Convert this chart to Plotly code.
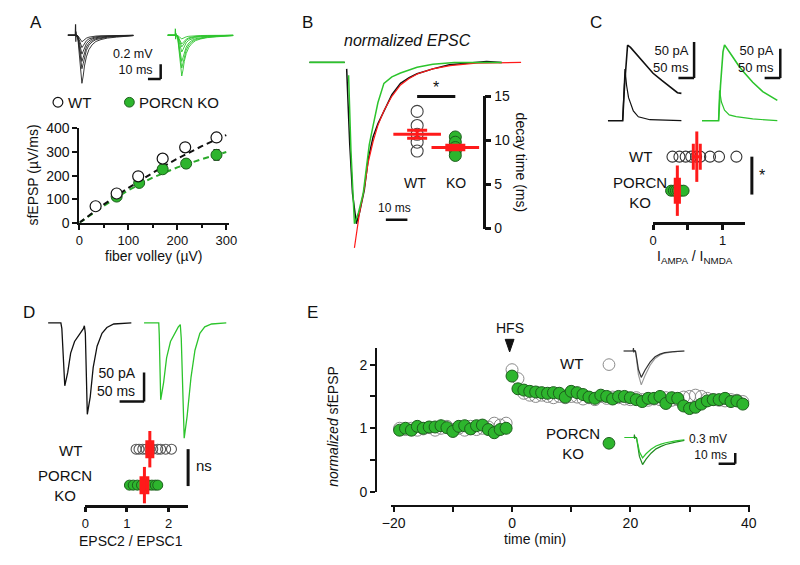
import plotly.graph_objects as go

# ======================= DATA =======================
# Panel A: input-output relation (fiber volley vs sfEPSP)
A_FV_WT = [33, 76, 120, 170, 216, 280]
A_WT = [70, 124, 197, 272, 320, 362]
A_WT_SEM = [8, 10, 14, 15, 20, 18]
A_FV_KO = [76, 122, 170, 218, 280]
A_KO = [111, 169, 227, 251, 288]
A_KO_SEM = [8, 15, 18, 18, 22]
A_FIT_X = [0, 50, 100, 150, 200, 250, 300]
A_FIT_WT = [0, 78, 148, 212, 272, 325, 372]
A_FIT_KO = [0, 72, 138, 192, 235, 270, 300]
A_X_TICKS = [0, 100, 200, 300]
A_X_MINOR = [50, 150, 250]
A_Y_TICKS = [0, 100, 200, 300, 400]
# Panel A example fEPSP traces (ms, normalised shape, amplitudes in mV)
FEPSP_T = [-6.0, -0.5, 1.0, 2.0, 3.0, 4.0, 5.0, 6.0, 7.0, 8.5, 10.5, 13.0, 16.0, 20.0, 25.0, 32.0, 40.0, 45.4]
FEPSP_SHAPE = [0, 0, 0, -0.12, -0.45, -0.82, -1.0, -0.85, -0.64, -0.45, -0.30, -0.20, -0.13, -0.09, -0.06, -0.04, -0.02, -0.01]
A_AMP_WT = [0.09, 0.17, 0.26, 0.36, 0.46, 0.66]
A_AMP_KO = [0.05, 0.12, 0.16, 0.23, 0.36, 0.45, 0.56]
ART_T = [-0.2, 0.0, 0.2, 0.4, 0.7, 1.0]
ART_V = [0.0, 0.15, -0.09, 0.05, -0.02, 0.0]

# Panel B: normalised EPSC (ms, normalised current)
B_BASE_T = [-17.3, -0.9]
B_BASE_V = [0, 0]
B_WT_T = [0, 1.4, 2.7, 4.5, 6, 8.2, 10, 12.3, 14.5, 17.3, 21, 25, 29, 32.7, 40, 47.7, 55, 65, 72]
B_WT_V = [-0.04, -0.5, -0.81, -1.0, -0.93, -0.79, -0.6, -0.46, -0.38, -0.30, -0.20, -0.13, -0.095, -0.07, -0.04, -0.015, -0.005, 0.005, 0]
B_KO_T = [0.9, 2.0, 3.6, 5.5, 7.7, 10.5, 12.3, 14.5, 17.3, 21, 25, 32.7, 40, 50, 60, 72]
B_KO_V = [-0.08, -0.55, -1.0, -0.93, -0.81, -0.51, -0.39, -0.25, -0.13, -0.09, -0.066, -0.03, -0.012, 0, 0, 0]
B_FIT_T = [3.6, 6, 8.2, 10, 12.3, 14.5, 17.3, 21, 25, 29, 33, 40, 48, 60, 81]
B_FIT_V = [-1.15, -0.93, -0.78, -0.62, -0.49, -0.39, -0.30, -0.21, -0.14, -0.10, -0.07, -0.04, -0.02, -0.005, 0]
B_GROUPS = ["WT", "KO"]
B_WT_DECAY = [13.3, 11.7, 10.7, 9.8, 8.8]
B_KO_DECAY = [10.4, 9.8, 9.2, 8.8, 8.3]
B_MEAN = [10.7, 9.2]
B_SEM = [0.45, 0.25]
B_Y_TICKS = [0, 5, 10, 15]

# Panel C: AMPA / NMDA currents (ms, pA)
C_WT_NMDA_T = [-47, -3, 0, 6, 12.5, 15.6, 25, 40.6, 56, 72, 97, 125, 150, 175, 187.5]
C_WT_NMDA_I = [0, 0, 0, 49, 96, 105, 102, 94, 86, 78, 66, 56, 47, 39, 38]
C_WT_AMPA_T = [0, 7.2, 12.5, 18.8, 34, 50, 87, 187.5]
C_WT_AMPA_I = [0, 72, 49, 32, 13.5, 5.4, 1.4, 0]
C_KO_NMDA_T = [-53, -3, 0, 6, 14, 19, 30, 47, 62, 78, 109, 141, 187.5]
C_KO_NMDA_I = [0, 0, 0, 60, 118, 130, 122, 108, 96, 85, 66, 50, 35]
C_KO_AMPA_T = [0, 3, 9, 19, 34, 56, 109, 187.5]
C_KO_AMPA_I = [0, 52, 32, 18, 10, 7, 3, 0]
C_WT = [0.28, 0.38, 0.47, 0.55, 0.62, 0.68, 0.82, 0.95, 1.20]
C_KO = [0.26, 0.30, 0.33, 0.36, 0.40, 0.44]
C_MEAN = [0.63, 0.35]
C_SEM = [0.05, 0.03]
C_X_TICKS = [0, 1]
C_X_MINOR = [0.5]

# Panel D: paired-pulse EPSCs (ms, pA)
D_WT_T = [-26, 0, 2, 8, 14, 20, 28, 38, 46, 48, 50, 54, 60, 66, 74, 84, 94, 108, 144]
D_WT_I = [0, 0, -10, -108, -85, -52, -32, -20, -10, -5, -18, -157, -127, -77, -40, -18, -8, -2, 0]
D_KO_T = [-30, 0, 1, 4, 10, 16, 24, 34, 40, 44, 46, 52, 58, 66, 74, 84, 94, 108, 138]
D_KO_I = [0, 0, -20, -132, -102, -60, -32, -15, -7, -3, -27, -198, -160, -93, -47, -18, -7, -2, 0]
D_WT = [1.22, 1.29, 1.38, 1.46, 1.55, 1.62, 1.74, 1.81, 1.93, 2.07]
D_KO = [1.06, 1.15, 1.25, 1.35, 1.45, 1.52, 1.60, 1.68, 1.74]
D_MEAN = [1.55, 1.42]
D_SEM = [0.06, 0.07]
D_X_TICKS = [0, 1, 2]

# Panel E: LTP time course
E_T = [-19, -18, -17, -16, -15, -14, -13, -12, -11, -10, -9, -8, -7, -6, -5, -4, -3, -2, -1,
       0, 1, 2, 3, 4, 5, 6, 7, 8, 9, 10, 11, 12, 13, 14, 15, 16, 17, 18, 19,
       20, 21, 22, 23, 24, 25, 26, 27, 28, 29, 30, 31, 32, 33, 34, 35, 36, 37, 38, 39]
E_WT = [1.00, 0.98, 1.00, 0.97, 0.99, 1.01, 0.97, 1.00, 1.03, 0.98, 1.00, 0.97, 1.03, 0.98, 1.00, 1.02, 1.08, 1.05, 1.08,
        1.92, 1.78, 1.55, 1.52, 1.50, 1.52, 1.50, 1.48, 1.50, 1.48, 1.50, 1.49, 1.46, 1.48, 1.45, 1.50, 1.47, 1.49, 1.48, 1.46,
        1.45, 1.48, 1.45, 1.44, 1.46, 1.45, 1.48, 1.44, 1.45, 1.49, 1.50, 1.52, 1.50, 1.47, 1.45, 1.44, 1.43, 1.45, 1.44, 1.42]
E_KO = [0.97, 1.00, 0.97, 1.03, 1.00, 1.02, 1.02, 1.04, 1.01, 0.95, 1.03, 1.04, 0.99, 1.04, 1.05, 0.98, 0.93, 0.98, 1.00,
        1.82, 1.62, 1.60, 1.58, 1.57, 1.56, 1.55, 1.56, 1.55, 1.49, 1.58, 1.56, 1.53, 1.49, 1.47, 1.52, 1.50, 1.46, 1.50, 1.50,
        1.48, 1.45, 1.42, 1.47, 1.47, 1.50, 1.39, 1.48, 1.47, 1.35, 1.31, 1.33, 1.38, 1.43, 1.45, 1.45, 1.47, 1.42, 1.43, 1.38]
E_KO_SEM = 0.06
E_X_TICKS = [-20, 0, 20, 40]
E_X_MINOR = [-10, 10, 30]
E_Y_TICKS = [0, 1, 2]
E_Y_MINOR = [0.5, 1.5]
# Panel E example traces (ms, normalised shape, mV)
EW_T = [-5.9, -0.3, 1.2, 2.0, 3.0, 4.7, 7.0, 10.0, 13.0, 16.0, 18.8, 24.7, 30.6]
EW_SHAPE = [0, 0, 0, -0.3, -0.7, -1.0, -0.72, -0.42, -0.22, -0.12, -0.06, -0.02, 0]
EK_T = [-5.9, -0.3, 1.2, 2.0, 3.0, 4.9, 7.0, 10.0, 13.0, 16.0, 18.8, 24.7, 30.0]
EK_SHAPE = [0, 0, 0, -0.3, -0.7, -1.0, -0.8, -0.58, -0.42, -0.33, -0.26, -0.17, -0.11]
EW_AMP = [0.74, 0.95]
EK_AMP = [0.57, 0.76]
E_ART_V = [0.0, 0.08, -0.04, 0.02, 0.0, 0.0]

# ======================= STYLE / LAYOUT HELPERS =======================
FONT = "Arial, 'Liberation Sans', sans-serif"
BLACK = "#111111"
GREEN_LINE = "#2cc42c"
GREEN_FILL = "#2db52d"
GREEN_EDGE = "#1d5f1d"
RED = "#ff1a1a"
W, H = 800, 565

fig = go.Figure()
axes_layout = {}
annotations = []
shapes = []
count = [0]


def X(px):
    return px / W


def Y(py):
    return 1 - py / H


def add_axes(xdom, ydom, xrange, yrange, xkw=None, ykw=None):
    count[0] += 1
    i = count[0]
    s = "" if i == 1 else str(i)
    hidden = dict(visible=False, showgrid=False, zeroline=False, fixedrange=True)
    xa = dict(hidden, domain=[X(xdom[0]), X(xdom[1])], range=xrange, anchor="y" + s)
    ya = dict(hidden, domain=[Y(ydom[1]), Y(ydom[0])], range=yrange, anchor="x" + s)
    if xkw:
        xa.update(xkw)
    if ykw:
        ya.update(ykw)
    axes_layout["xaxis" + s] = xa
    axes_layout["yaxis" + s] = ya
    return "x" + s, "y" + s


def trace_axes(box, origin, scale):
    l, t, r, b = box
    x0, y0 = origin
    sx, sy = scale
    return add_axes((l, r), (t, b), [(l - x0) / sx, (r - x0) / sx], [(y0 - b) / sy, (y0 - t) / sy])


def minor_ticks(vals, length=5, width=2):
    return dict(tickvals=vals, ticks="outside", ticklen=length, tickwidth=width, tickcolor=BLACK, showgrid=False)


def vis(**kw):
    d = dict(visible=True, showline=True, linecolor=BLACK, linewidth=2, ticks="outside", ticklen=5,
             tickwidth=2, tickcolor=BLACK, tickfont=dict(family=FONT, size=14, color=BLACK),
             showgrid=False, zeroline=False, fixedrange=True)
    d.update(kw)
    return d


def line(ax, x, y, color, width=1.2, dash=None):
    fig.add_trace(go.Scatter(x=x, y=y, xaxis=ax[0], yaxis=ax[1], mode="lines",
                             line=dict(color=color, width=width, dash=dash),
                             hoverinfo="skip", showlegend=False, connectgaps=False))


def txt(px, py, s, size=14, xanchor="center", angle=0, color=BLACK, align="center"):
    annotations.append(dict(x=X(px), y=Y(py), xref="paper", yref="paper", text=s, showarrow=False,
                            font=dict(family=FONT, size=size, color=color), xanchor=xanchor,
                            yanchor="middle", textangle=angle, align=align, borderpad=0))


def pline(x0, y0, x1, y1, w=2.5, color=BLACK):
    shapes.append(dict(type="line", xref="paper", yref="paper", x0=X(x0), y0=Y(y0), x1=X(x1), y1=Y(y1),
                       line=dict(color=color, width=w)))


def pcircle(cx, cy, d, fill, edge, lw=1):
    shapes.append(dict(type="circle", xref="paper", yref="paper", x0=X(cx - d / 2), x1=X(cx + d / 2),
                       y0=Y(cy + d / 2), y1=Y(cy - d / 2), fillcolor=fill, line=dict(color=edge, width=lw)))


def scalebar(ax, xc, yc, dx, dy, w=2.5):
    if dy:
        shapes.append(dict(type="line", xref=ax[0], yref=ax[1], x0=xc, x1=xc, y0=yc, y1=yc + dy,
                           line=dict(color=BLACK, width=w)))
    if dx:
        shapes.append(dict(type="line", xref=ax[0], yref=ax[1], x0=xc - dx, x1=xc, y0=yc, y1=yc,
                           line=dict(color=BLACK, width=w)))


def scaled(shape, amp):
    return [amp * v for v in shape]


# ======================= PANEL A =======================
axA = add_axes((72, 225), (124, 221), [0, 306], [0, 400],
               vis(tickvals=A_X_TICKS, tickfont=dict(family=FONT, size=13, color=BLACK),
                   minor=minor_ticks(A_X_MINOR, 3, 1.5)),
               vis(tickvals=A_Y_TICKS))
line(axA, A_FIT_X, A_FIT_KO, "#2aa82a", 2, "6px,4px")
line(axA, A_FIT_X, A_FIT_WT, BLACK, 2, "6px,4px")
fig.add_trace(go.Scatter(x=A_FV_KO, y=A_KO, xaxis=axA[0], yaxis=axA[1], mode="markers",
                         error_y=dict(array=A_KO_SEM, color=BLACK, thickness=1.2, width=3),
                         marker=dict(size=11, color=GREEN_FILL, line=dict(color=GREEN_EDGE, width=1)),
                         cliponaxis=False, hoverinfo="skip", showlegend=False))
fig.add_trace(go.Scatter(x=A_FV_WT, y=A_WT, xaxis=axA[0], yaxis=axA[1], mode="markers",
                         error_y=dict(array=A_WT_SEM, color=BLACK, thickness=1.2, width=3),
                         marker=dict(size=11, color="white", line=dict(color=BLACK, width=1.2)),
                         cliponaxis=False, hoverinfo="skip", showlegend=False))
annotations.append(dict(x=216, y=470, xref=axA[0], yref=axA[1], text="*", showarrow=False,
                        font=dict(family=FONT, size=16, color=BLACK)))
annotations.append(dict(x=280, y=470, xref=axA[0], yref=axA[1], text="*", showarrow=False,
                        font=dict(family=FONT, size=16, color=BLACK)))
txt(148, 255, "fiber volley (µV)", 14)
txt(25, 172, "sfEPSP (µV/ms)", 14, angle=-90)
pcircle(50, 97, 10, "white", BLACK, 1.2)
txt(59, 97, "WT", 15, "left")
pcircle(123, 97, 10, GREEN_FILL, GREEN_EDGE, 1)
txt(132, 97, "PORCN KO", 15, "left")

# A traces
axAw = trace_axes((56, 8, 160, 85), (68, 28), (1.3, 75))
for amp in A_AMP_WT:
    line(axAw, FEPSP_T, scaled(FEPSP_SHAPE, amp), "#222222", 0.9)
line(axAw, ART_T, ART_V, "#222222", 1.2)
scalebar(axAw, 66.9, -0.6, 10, 0.2)
axAk = trace_axes((158, 8, 232, 85), (170, 28), (1.3, 75))
for amp in A_AMP_KO:
    line(axAk, FEPSP_T, scaled(FEPSP_SHAPE, amp), GREEN_LINE, 0.9)
line(axAk, ART_T, scaled(ART_V, 0.6), GREEN_LINE, 1.2)
txt(148, 56, "0.2 mV<br>10 ms", 12.5, "right", align="right")

# ======================= PANEL B =======================
axB = trace_axes((300, 45, 535, 252), (345, 56), (2.2, 166))
line(axB, B_BASE_T, B_BASE_V, BLACK, 1.3)
line(axB, B_WT_T, B_WT_V, BLACK, 1.5)
line(axB, B_FIT_T, B_FIT_V, RED, 1.2)
line(axB, B_BASE_T, B_BASE_V, GREEN_LINE, 1.8)
line(axB, B_KO_T, B_KO_V, GREEN_LINE, 1.5)
scalebar(axB, 28.2, -0.976, 10, 0, 2.5)
txt(394, 206, "10 ms", 12)
txt(407, 33, "<i>normalized EPSC</i>", 16)

axBi = add_axes((380, 484), (91, 227), [-0.949, 1.718], [0, 15], None,
                vis(side="right", tickvals=B_Y_TICKS, linewidth=2.5, ticklen=6, tickwidth=2.5))
fig.add_trace(go.Scatter(x=[0] * len(B_WT_DECAY), y=B_WT_DECAY, xaxis=axBi[0], yaxis=axBi[1], mode="markers",
                         marker=dict(size=12, color="rgba(255,255,255,0)", line=dict(color="#444444", width=1.1)),
                         cliponaxis=False, hoverinfo="skip", showlegend=False))
fig.add_trace(go.Scatter(x=[1] * len(B_KO_DECAY), y=B_KO_DECAY, xaxis=axBi[0], yaxis=axBi[1], mode="markers",
                         marker=dict(size=12, color=GREEN_FILL, line=dict(color=GREEN_EDGE, width=1)),
                         cliponaxis=False, hoverinfo="skip", showlegend=False))
fig.add_trace(go.Scatter(x=[0, 1], y=B_MEAN, xaxis=axBi[0], yaxis=axBi[1], mode="markers",
                         error_y=dict(array=B_SEM, color=RED, thickness=3, width=10),
                         marker=dict(symbol="line-ew", size=34, line=dict(color=RED, width=3)),
                         cliponaxis=False, hoverinfo="skip", showlegend=False))
pline(417, 91, 456, 91, 3)
txt(436, 82, "*", 16)
txt(415, 180, B_GROUPS[0], 14)
txt(457, 180, B_GROUPS[1], 14)
txt(523, 159, "decay time (ms)", 14, angle=90)

# ======================= PANEL C =======================
axCw = trace_axes((605, 25, 706, 122), (627, 116), (0.32, 0.74))
line(axCw, C_WT_NMDA_T, C_WT_NMDA_I, BLACK, 1.6)
line(axCw, C_WT_AMPA_T, C_WT_AMPA_I, BLACK, 1.2)
scalebar(axCw, 228, 59.5, 50, 50)
axCk = trace_axes((703, 25, 794, 122), (725, 116), (0.32, 0.6))
line(axCk, C_KO_NMDA_T, C_KO_NMDA_I, GREEN_LINE, 1.6)
line(axCk, C_KO_AMPA_T, C_KO_AMPA_I, GREEN_LINE, 1.2)
scalebar(axCk, 197, 73.3, 50, 50)
txt(696, 53, "50 pA<br>50 ms", 13, "right", align="right")
txt(783, 53, "50 pA<br>50 ms", 13, "right", align="right")

axCs = add_axes((658, 752), (132, 220), [0, 1.324], [-0.914, 1.6],
                vis(tickvals=C_X_TICKS, linewidth=2.5, tickwidth=2.5, ticklen=5,
                    tickfont=dict(family=FONT, size=13, color=BLACK),
                    minor=minor_ticks(C_X_MINOR, 5, 2.5)), None)
fig.add_trace(go.Scatter(x=C_WT, y=[1] * len(C_WT), xaxis=axCs[0], yaxis=axCs[1], mode="markers",
                         marker=dict(size=11, color="rgba(255,255,255,0)", line=dict(color="#333333", width=1.1)),
                         cliponaxis=False, hoverinfo="skip", showlegend=False))
fig.add_trace(go.Scatter(x=C_KO, y=[0] * len(C_KO), xaxis=axCs[0], yaxis=axCs[1], mode="markers",
                         marker=dict(size=11, color=GREEN_FILL, line=dict(color=GREEN_EDGE, width=1)),
                         cliponaxis=False, hoverinfo="skip", showlegend=False))
fig.add_trace(go.Scatter(x=C_MEAN, y=[1, 0], xaxis=axCs[0], yaxis=axCs[1], mode="markers",
                         error_x=dict(array=C_SEM, color=RED, thickness=3, width=13),
                         marker=dict(symbol="line-ns", size=36, line=dict(color=RED, width=3)),
                         cliponaxis=False, hoverinfo="skip", showlegend=False))
txt(645, 153, "WT", 15)
txt(645, 190, "PORCN<br>KO", 15)
pline(759, 153, 759, 192, 3)
txt(769, 172, "*", 16)
txt(701, 256, "I<sub>AMPA</sub> / I<sub>NMDA</sub>", 14)

# ======================= PANEL D =======================
axDw = trace_axes((36, 318, 142, 425), (53, 324), (0.5, 0.6))
line(axDw, D_WT_T, D_WT_I, BLACK, 1.3)
scalebar(axDw, 170, -135, 50, 50)
axDk = trace_axes((134, 318, 226, 450), (153, 324), (0.5, 0.6))
line(axDk, D_KO_T, D_KO_I, GREEN_LINE, 1.3)
txt(131, 385, "50 pA<br>50 ms", 14, "right", align="right")

axDs = add_axes((78, 183), (440, 511), [0, 2.47], [-0.54, 1.38],
                vis(tickvals=D_X_TICKS, linewidth=2.5, tickwidth=2.5, ticklen=5,
                    tickfont=dict(family=FONT, size=13, color=BLACK)), None)
fig.add_trace(go.Scatter(x=D_WT, y=[1] * len(D_WT), xaxis=axDs[0], yaxis=axDs[1], mode="markers",
                         marker=dict(size=10, color="rgba(255,255,255,0)", line=dict(color="#555555", width=1.1)),
                         cliponaxis=False, hoverinfo="skip", showlegend=False))
fig.add_trace(go.Scatter(x=D_KO, y=[0] * len(D_KO), xaxis=axDs[0], yaxis=axDs[1], mode="markers",
                         marker=dict(size=10, color=GREEN_FILL, line=dict(color=GREEN_EDGE, width=1)),
                         cliponaxis=False, hoverinfo="skip", showlegend=False))
fig.add_trace(go.Scatter(x=D_MEAN, y=[1, 0], xaxis=axDs[0], yaxis=axDs[1], mode="markers",
                         error_x=dict(array=D_SEM, color=RED, thickness=4, width=9),
                         marker=dict(symbol="line-ns", size=26, line=dict(color=RED, width=3)),
                         cliponaxis=False, hoverinfo="skip", showlegend=False))
txt(63, 455, "WT", 15)
txt(57, 491, "PORCN<br>KO", 15)
pline(183, 454, 183, 492, 3)
txt(199, 471, "ns", 15)
txt(125, 549, "EPSC2 / EPSC1", 14)

# ======================= PANEL E =======================
axE = add_axes((390, 757), (350, 498), [-20.5, 40.2], [0, 2.26],
               vis(anchor="free", position=Y(512), tickvals=E_X_TICKS, minor=minor_ticks(E_X_MINOR)),
               vis(anchor="free", position=X(375), tickvals=E_Y_TICKS, minor=minor_ticks(E_Y_MINOR)))
fig.add_trace(go.Scatter(x=E_T, y=E_WT, xaxis=axE[0], yaxis=axE[1], mode="markers",
                         marker=dict(size=12, color="rgba(255,255,255,0)", line=dict(color="#8a8a8a", width=1)),
                         cliponaxis=False, hoverinfo="skip", showlegend=False))
fig.add_trace(go.Scatter(x=E_T, y=E_KO, xaxis=axE[0], yaxis=axE[1], mode="markers",
                         error_y=dict(type="constant", value=E_KO_SEM, color=BLACK, thickness=1, width=0),
                         marker=dict(size=12, color=GREEN_FILL, line=dict(color=GREEN_EDGE, width=1)),
                         cliponaxis=False, hoverinfo="skip", showlegend=False))
txt(512, 329, "HFS", 14)
shapes.append(dict(type="path", xref="paper", yref="paper",
                   path="M {} {} L {} {} L {} {} Z".format(X(507), Y(341), X(516), Y(341), X(511.5), Y(354)),
                   fillcolor=BLACK, line=dict(color=BLACK, width=1)))
txt(331, 430, "<i>normalized</i> sfEPSP", 14, angle=-90)
txt(537, 546, "time (min)", 14)

axEw = trace_axes((622, 343, 700, 395), (638, 353), (1.7, 36.7))
line(axEw, EW_T, scaled(EW_SHAPE, EW_AMP[1]), "#9a9a9a", 1.2)
line(axEw, EW_T, scaled(EW_SHAPE, EW_AMP[0]), "#333333", 1.2)
line(axEw, ART_T, E_ART_V, "#333333", 1.2)
axEk = trace_axes((622, 430, 748, 478), (639, 442), (1.7, 36.7))
line(axEk, EK_T, scaled(EK_SHAPE, EK_AMP[1]), "#1f8a1f", 1.2)
line(axEk, EK_T, scaled(EK_SHAPE, EK_AMP[0]), GREEN_LINE, 1.2)
line(axEk, ART_T, E_ART_V, "#1f8a1f", 1.2)
scalebar(axEk, 60.6, -0.736, 10, 0.3)
txt(575, 366, "WT", 15)
pcircle(613, 367, 12, "white", "#8a8a8a", 1)
txt(576, 448, "PORCN<br>KO", 15)
pcircle(613, 448, 12, GREEN_FILL, GREEN_EDGE, 1)
txt(735, 452, "0.3 mV<br>10 ms", 12, "right", align="right")

# ======================= PANEL LETTERS =======================
for letter, (px, py) in {"A": (28, 15), "B": (305, 15), "C": (600, 15), "D": (20, 313), "E": (310, 313)}.items():
    txt(px, py, letter, 17)

fig.update_layout(width=W, height=H, margin=dict(l=0, r=0, t=0, b=0), paper_bgcolor="white",
                  plot_bgcolor="rgba(0,0,0,0)", showlegend=False, annotations=annotations, shapes=shapes,
                  font=dict(family=FONT, color=BLACK), **axes_layout)
fig.write_html("out.html", config={"displayModeBar": False},
               post_script="document.body.style.margin='0';document.body.style.overflow='hidden';")
